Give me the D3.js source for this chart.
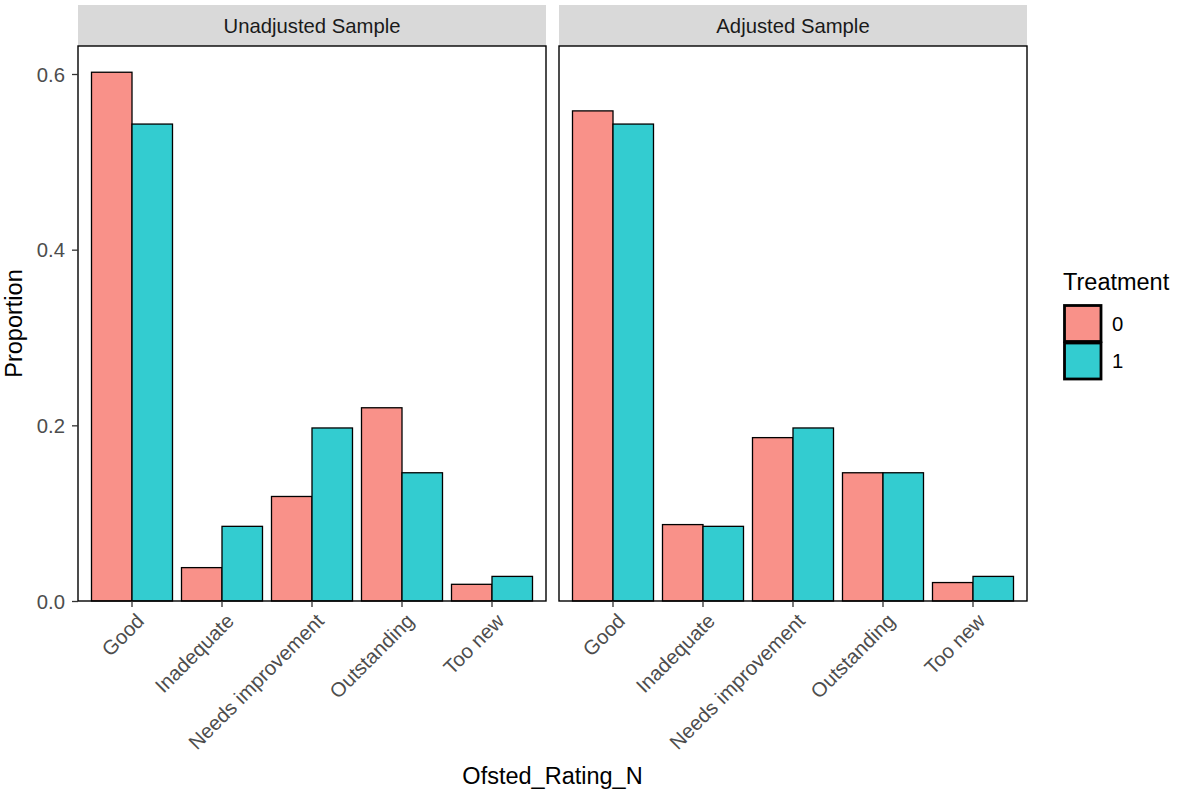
<!DOCTYPE html>
<html><head><meta charset="utf-8">
<script src="https://cdn.jsdelivr.net/npm/d3@7"></script>
<style>body{margin:0;background:#fff;} text{font-family:"Liberation Sans",Arial,sans-serif;}</style>
</head><body>
<svg id="chart" width="1188" height="800"></svg>
<script>
const categories = ["Good","Inadequate","Needs improvement","Outstanding","Too new"];
const panels = ["Unadjusted Sample","Adjusted Sample"];
const groups = ["0","1"];
const unadjusted0 = [0.602,0.038,0.119,0.220,0.019];
const unadjusted1 = [0.543,0.085,0.197,0.146,0.028];
const adjusted0 = [0.558,0.087,0.186,0.146,0.021];
const adjusted1 = [0.543,0.085,0.197,0.146,0.028];
const yTicks = [0,0.2,0.4,0.6];
const yTickLabels = ["0.0","0.2","0.4","0.6"];

const panelData = [
  {name:panels[0], series:[unadjusted0, unadjusted1]},
  {name:panels[1], series:[adjusted0, adjusted1]}
];
const colors = d3.scaleOrdinal().domain(groups).range(["#F99189","#33CCD0"]);

const svg = d3.select("#chart");
const pTop = 46, pBottom = 601, panelW = 468;
const panelX = [78, 559];
const y = d3.scaleLinear().domain([0,0.6]).range([pBottom, 74]);
const smallFont = "20.3px";

panelData.forEach((p, pi) => {
  const x0 = panelX[pi];
  const step = panelW/5.2;
  const x = d3.scaleBand().domain(categories)
    .range([x0 + 0.6*step - step/2, x0 + panelW - 0.6*step + step/2])
    .paddingInner(0).paddingOuter(0);
  const inner = d3.scaleBand().domain(groups).range([0, step*0.9]);
  const g = svg.append("g");
  g.append("rect").attr("x", x0).attr("y", 5).attr("width", panelW).attr("height", pTop-5).attr("fill","#D9D9D9");
  g.append("text").attr("x", x0+panelW/2).attr("y", 26).attr("dy","0.35em")
    .attr("text-anchor","middle").attr("font-size",smallFont).attr("fill","#1A1A1A").text(p.name);
  categories.forEach((c, ci) => {
    groups.forEach((gr, gi) => {
      const v = p.series[gi][ci];
      g.append("rect")
        .attr("x", x(c) + step*0.05 + inner(gr))
        .attr("y", y(v))
        .attr("width", inner.bandwidth())
        .attr("height", y(0)-y(v))
        .attr("fill", colors(gr))
        .attr("stroke","#000").attr("stroke-width",1.3);
    });
  });
  g.append("rect").attr("x", x0).attr("y", pTop).attr("width", panelW).attr("height", pBottom-pTop)
    .attr("fill","none").attr("stroke","#000").attr("stroke-width",1.4);
  const xa = g.append("g").attr("transform",`translate(0,${pBottom})`)
    .call(d3.axisBottom(x).tickSize(6).tickSizeOuter(0).tickFormat(() => ""));
  xa.select(".domain").remove();
  xa.selectAll(".tick line").attr("stroke","#333333").attr("stroke-width",1.3);
  categories.forEach(c => {
    const cx = x(c) + step/2;
    g.append("text").attr("transform",`translate(${cx+3},${pBottom+11}) rotate(-45)`)
      .attr("text-anchor","end").attr("dy","0.72em")
      .attr("font-size",smallFont).attr("fill","#4D4D4D").text(c);
  });
  if (pi === 0) {
    const ya = g.append("g").attr("transform",`translate(${x0},0)`)
      .call(d3.axisLeft(y).tickValues(yTicks).tickSize(6).tickFormat((d,i)=>yTickLabels[i]));
    ya.select(".domain").remove();
    ya.selectAll(".tick line").attr("stroke","#333333").attr("stroke-width",1.3);
    ya.selectAll(".tick text").attr("font-size",smallFont).attr("fill","#4D4D4D")
      .attr("font-family","Liberation Sans, Arial, sans-serif").attr("x",-13).attr("dy","0.35em");
  }
});

svg.append("text").attr("x", (78+1027)/2).attr("y", 784).attr("text-anchor","middle")
  .attr("font-size","23.5px").attr("fill","#000").text("Ofsted_Rating_N");
svg.append("text").attr("transform",`translate(22,${(pTop+pBottom)/2}) rotate(-90)`).attr("text-anchor","middle")
  .attr("font-size","23.5px").attr("fill","#000").text("Proportion");

const lg = svg.append("g");
lg.append("text").attr("x",1063).attr("y",290).attr("font-size","23.5px").attr("fill","#000").text("Treatment");
groups.forEach((gr,i) => {
  lg.append("rect").attr("x",1064.5).attr("y",305.5+i*37.5).attr("width",36.5).attr("height",36)
    .attr("fill",colors(gr)).attr("stroke","#000").attr("stroke-width",2.8);
  lg.append("text").attr("x",1112).attr("y",323.5+i*37.5).attr("dy","0.35em")
    .attr("font-size",smallFont).attr("fill","#000").text(gr);
});
</script>
</body></html>
